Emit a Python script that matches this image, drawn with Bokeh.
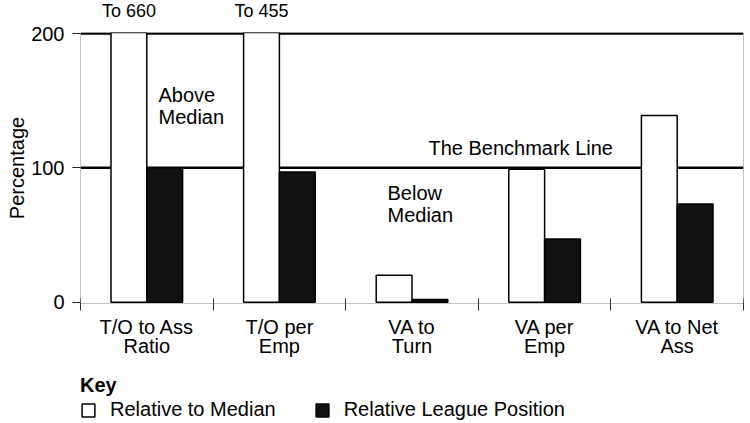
import numpy as np
from bokeh.plotting import figure
from bokeh.layouts import column
from bokeh.models import (Range1d, FixedTicker, Span, Legend, LegendItem,
                          ColumnDataSource, LinearAxis)
from bokeh.core.properties import value
from bokeh.embed import file_html
from bokeh.resources import INLINE

# ---- data ----
categories = ["T/O to Ass\nRatio", "T/O per\nEmp", "VA to\nTurn", "VA per\nEmp", "VA to Net\nAss"]
relative_to_median = [660, 455, 20, 99, 139]
relative_league_position = [100, 97, 2, 47, 73]
y_ticks = [0, 100, 200]
benchmark_levels = [100, 200]
series_names = ["Relative to Median", "Relative League Position"]
ann_text = ["Above\nMedian", "Below\nMedian", "The Benchmark Line"]
ann_x = [0.588, 2.315, 2.624]
ann_y = [162.5, 89.8, 123.0]

FONT = "Liberation Sans"
FS = "20px"
DARK = "#111111"

n = len(categories)
centers = np.arange(n) + 0.5
bar_w = 0.27
y_max = y_ticks[-1]
x_rng = Range1d(0, n)

# ---- main chart ----
p = figure(width=750, height=346, output_backend="svg", toolbar_location=None,
           x_range=x_rng, y_range=Range1d(-1, y_max + 0.8),
           min_border_left=80, min_border_right=7, min_border_top=10, min_border_bottom=65)
p.grid.visible = False
p.background_fill_color = "white"
p.border_fill_color = "white"
p.outline_line_color = None

for lv in benchmark_levels:
    p.add_layout(Span(location=lv, dimension="width", line_color="black",
                      line_width=2.5, level="underlay"))

src_w = ColumnDataSource(dict(x=centers - bar_w / 2, top=relative_to_median))
src_b = ColumnDataSource(dict(x=centers + bar_w / 2, top=relative_league_position))
r_w = p.vbar(x="x", top="top", bottom=0, width=bar_w, source=src_w,
             fill_color="white", line_color="black", line_width=1.5)
r_b = p.vbar(x="x", top="top", bottom=0, width=bar_w, source=src_b,
             fill_color=DARK, line_color="black", line_width=1.5)

p.text(x=ann_x, y=ann_y, text=ann_text, text_font=value(FONT), text_font_size=FS,
       text_baseline="top", text_align="left", text_color="black", text_line_height=1.0)

xa = p.xaxis[0]
xa.ticker = FixedTicker(ticks=list(centers), minor_ticks=list(range(n + 1)))
xa.major_label_overrides = {float(c): lab for c, lab in zip(centers, categories)}
xa.major_tick_line_color = None
xa.major_tick_in = 0
xa.major_tick_out = 0
xa.minor_tick_in = 5
xa.minor_tick_out = 7
xa.minor_tick_line_color = "#333333"
xa.axis_line_color = "#888888"
xa.axis_line_dash = "1 1"
xa.major_label_standoff = 5
xa.major_label_text_font = FONT
xa.major_label_text_font_size = FS
xa.major_label_text_color = "black"
xa.major_label_text_line_height = 0.9

ya = p.yaxis[0]
ya.ticker = FixedTicker(ticks=y_ticks)
ya.bounds = (0, y_max)
ya.minor_tick_line_color = None
ya.major_tick_in = 0
ya.major_tick_out = 8
ya.major_tick_line_color = "#222222"
ya.axis_line_color = "#888888"
ya.axis_line_dash = "1 1"
ya.major_label_standoff = 8
ya.major_label_text_font = FONT
ya.major_label_text_font_size = FS
ya.major_label_text_color = "black"
ya.axis_label = "Percentage"
ya.axis_label_text_font = FONT
ya.axis_label_text_font_size = FS
ya.axis_label_text_font_style = "normal"
ya.axis_label_text_color = "black"
ya.axis_label_standoff = 0

ra = LinearAxis(ticker=FixedTicker(ticks=[]), bounds=(0, y_max),
                axis_line_color="#888888", axis_line_dash="1 1",
                major_tick_line_color=None, minor_tick_line_color=None)
p.add_layout(ra, "right")

# ---- strip above: labels for bars running off the scale ----
top = figure(width=750, height=22, output_backend="svg", toolbar_location=None,
             x_range=x_rng, y_range=Range1d(0, 1),
             x_axis_type=None, y_axis_type=None, min_border=0)
top.grid.visible = False
top.outline_line_color = None
off_x = [x for x, v in zip(centers - bar_w / 2, relative_to_median) if v > y_max]
off_t = [f"To {v}" for v in relative_to_median if v > y_max]
top.text(x=off_x, y=0.98, text=off_t, text_font=value(FONT), text_font_size="18px",
         text_align="center", text_baseline="top", text_color="black")

# ---- strip below: the key ----
lg = figure(width=750, height=55, output_backend="svg", toolbar_location=None,
            x_range=Range1d(0, 1), y_range=Range1d(0, 1),
            x_axis_type=None, y_axis_type=None, min_border=0)
lg.grid.visible = False
lg.outline_line_color = None
lw = lg.vbar(x="x", top="top", bottom=0, width=bar_w, source=src_w, visible=False,
             fill_color="white", line_color="black", line_width=1.5)
lb = lg.vbar(x="x", top="top", bottom=0, width=bar_w, source=src_b, visible=False,
             fill_color=DARK, line_color="black", line_width=1.5)
legend = Legend(items=[LegendItem(label=series_names[0], renderers=[lw]),
                       LegendItem(label=series_names[1], renderers=[lb])],
                orientation="horizontal", location=(0, 2),
                title="Key", title_text_font=FONT, title_text_font_size=FS,
                title_text_font_style="bold", title_standoff=1,
                label_text_font=FONT, label_text_font_size=FS, label_text_color="black",
                title_text_color="black", inactive_fill_alpha=0,
                glyph_width=16, glyph_height=16, label_standoff=14, spacing=38,
                border_line_color=None, background_fill_alpha=0,
                margin=0, padding=0, click_policy="none")
lg.add_layout(legend, "center")

open("out.html", "w").write(file_html(column(top, p, lg), INLINE))
